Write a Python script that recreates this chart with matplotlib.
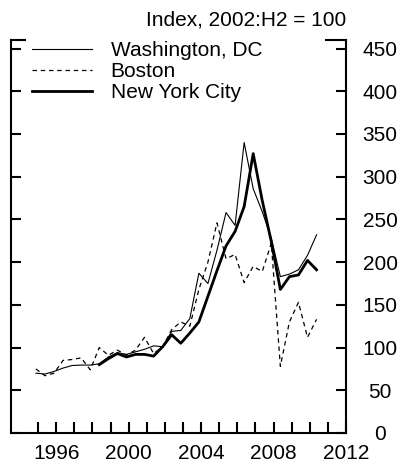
import numpy as np
import matplotlib
matplotlib.use('Agg')
import matplotlib.pyplot as plt

plt.rcParams['font.family'] = ['Liberation Sans', 'DejaVu Sans']
plt.rcParams['font.size'] = 15

# half-yearly index values, 2002:H2 = 100
start = 1994.875
washington = [70, 69, 72, 76, 79, 79.5, 79.5, 81, 89, 94, 92, 95, 98, 102, 101, 119,
              120, 134, 187, 175, 214, 258, 243, 340, 286, 259, 228, 183, 186, 191, 208, 232]
boston = [75, 67, 70, 85, 86, 88, 74, 100, 91, 97, 91, 97, 112, 93, 101, 121,
          130, 125, 168, 200, 246, 204, 209, 176, 195, 189, 222, 78, 130, 153, 112, 133]
nyc = [np.nan] * 7 + [80, 87, 93, 89, 92, 92, 90, 101, 115, 105, 117, 130, 160, 190,
                      219, 236, 265, 327, 272, 224, 168, 183, 185, 202, 191]
t = start + 0.5 * np.arange(len(washington))

year_labels = [1996, 2000, 2004, 2008, 2012]
y_ticks = list(range(0, 451, 50))

fig = plt.figure(figsize=(4.04, 4.72), dpi=100)
ax = fig.add_axes([11 / 404, 39 / 472, 335 / 404, 393 / 472])

ax.plot(t, washington, color='black', lw=0.8, label='Washington, DC')
ax.plot(t, boston, color='black', lw=0.9, linestyle=(0, (3.6, 3.0)), label='Boston')
ax.plot(t, nyc, color='black', lw=2.0, label='New York City')

ax.set_xlim(1993.5, 2012)
ax.set_ylim(0, 460)

for s in ax.spines.values():
    s.set_linewidth(1.5)

ax.set_xticks(year_labels)
ax.set_xticks(np.arange(1995, 2012), minor=True)
ax.tick_params(axis='x', which='both', direction='in', length=8, width=1.5, pad=8)

ax.set_yticks(y_ticks)
ax.yaxis.set_ticks_position('both')
ax.tick_params(axis='y', direction='in', length=7.5, width=1.5,
               labelleft=False, labelright=True, pad=24.5)
for tick in ax.yaxis.get_major_ticks():
    tick.label2.set_horizontalalignment('center')

# white legend box also hides the middle of the top frame line
leg = ax.legend(loc='upper left', bbox_to_anchor=(0.0448, 0.5, 0.8925, 0.5127),
                mode='expand', borderaxespad=0, borderpad=0.3, frameon=True,
                fancybox=False, framealpha=1, facecolor='white', edgecolor='none',
                handlelength=2.86, handletextpad=0.9, labelspacing=0.09, fontsize=15)

ax.text(1.0, 1.0 + 15 / 393, 'Index, 2002:H2 = 100', transform=ax.transAxes,
        ha='right', va='baseline', fontsize=15)

fig.savefig('out.png', dpi=100)
